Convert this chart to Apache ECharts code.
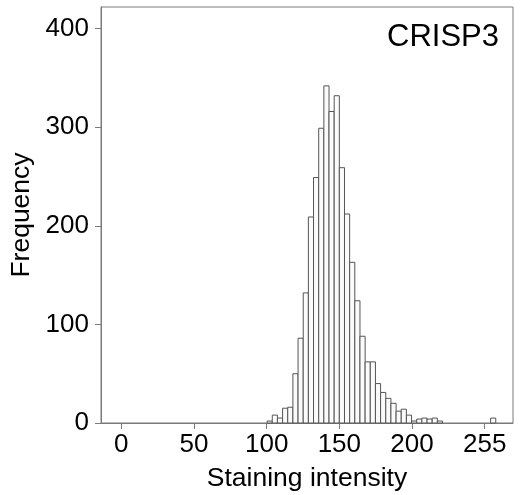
<!DOCTYPE html>
<html>
<head>
<meta charset="utf-8">
<script src="https://cdn.jsdelivr.net/npm/echarts@6/dist/echarts.min.js"></script>
<style>
  html, body { margin: 0; padding: 0; background: #fff; }
  #chart { width: 526px; height: 495px; }
</style>
</head>
<body>
<div id="chart"></div>
<script>
// histogram bins (staining intensity)
const binStart = 100.3
const binWidth = 3.55
const counts = [2, 8, 5, 15, 16, 50, 86, 132, 209, 249, 299, 342, 316, 332, 259,
  212, 163, 124, 88, 62, 62, 40, 31, 25, 20, 12, 14, 8, 2, 4, 5, 4, 5, 2]
// lone bin at the top end of the scale
const extraStarts = [254.1]
const extraCounts = [5]

const xTickValues = [0, 50, 100, 150, 200, 250]
const xTickLabels = ['0', '50', '100', '150', '200', '255']
const yTickValues = [0, 100, 200, 300, 400]

const FONT = '"Liberation Sans", Arial, sans-serif'
const GRAY = '#7a7a7a'

let bins = counts.map((c, i) => [binStart + i * binWidth, binStart + (i + 1) * binWidth, c])
extraStarts.forEach((s, i) => bins.push([s, s + binWidth, extraCounts[i]]))

const chart = echarts.init(document.getElementById('chart'))
chart.setOption({
  animation: false,
  backgroundColor: '#fff',
  title: {
    text: 'CRISP3',
    right: 22,
    top: 17,
    textStyle: { fontFamily: FONT, fontSize: 31, fontWeight: 'normal', color: '#000' }
  },
  grid: {
    left: 101, right: 13, top: 7, bottom: 72,
    outerBoundsMode: 'none',
    containLabel: false,
    show: true, borderColor: GRAY, borderWidth: 1
  },
  xAxis: {
    type: 'value',
    min: -14,
    max: 269.5,
    name: 'Staining intensity',
    nameLocation: 'middle',
    nameGap: 42,
    nameTextStyle: { fontFamily: FONT, fontSize: 26.5, color: '#000' },
    axisLine: { show: true, onZero: false, lineStyle: { color: GRAY } },
    axisTick: { show: true, inside: false, length: 6, lineStyle: { color: GRAY }, customValues: xTickValues },
    axisLabel: {
      fontFamily: FONT, fontSize: 26, color: '#000', margin: 9,
      customValues: xTickValues,
      formatter: v => xTickLabels[xTickValues.indexOf(v)]
    },
    splitLine: { show: false }
  },
  yAxis: {
    type: 'value',
    min: 0,
    max: 422,
    name: 'Frequency',
    nameLocation: 'middle',
    nameGap: 62,
    nameTextStyle: { fontFamily: FONT, fontSize: 26.5, color: '#000' },
    axisLine: { show: true, onZero: false, lineStyle: { color: GRAY } },
    axisTick: { show: true, inside: false, length: 6, lineStyle: { color: GRAY }, customValues: yTickValues },
    axisLabel: { fontFamily: FONT, fontSize: 26, color: '#000', margin: 12, customValues: yTickValues },
    splitLine: { show: false }
  },
  series: [{
    type: 'custom',
    data: bins,
    encode: { x: [0, 1], y: 2 },
    renderItem: (params, api) => {
      const p0 = api.coord([api.value(0), api.value(2)])
      const p1 = api.coord([api.value(1), 0])
      return {
        type: 'rect',
        shape: { x: p0[0], y: p0[1], width: p1[0] - p0[0], height: p1[1] - p0[1] },
        style: { fill: '#fbfbfb', stroke: '#555', lineWidth: 1 }
      }
    }
  }]
})
</script>
</body>
</html>
